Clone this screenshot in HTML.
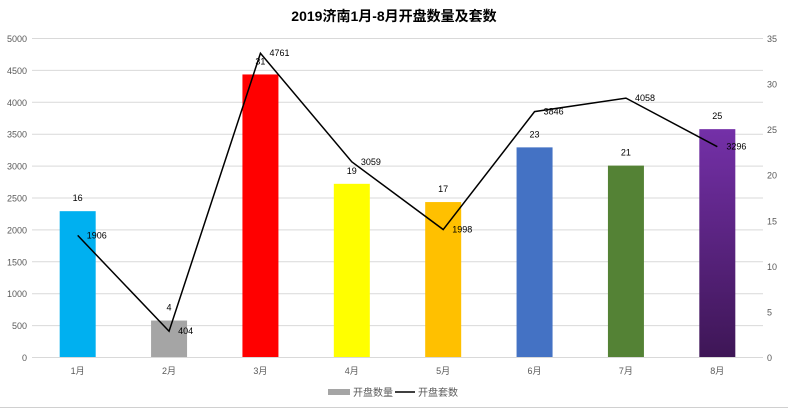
<!DOCTYPE html>
<html><head><meta charset="utf-8"><style>
body{margin:0;background:#fff;}
svg{display:block;font-family:"Liberation Sans","Noto Sans CJK SC",sans-serif;}
</style></head><body>
<svg id="chart" width="788" height="409" viewBox="0 0 788 409">
<defs><linearGradient id="pg" x1="0" y1="0" x2="0" y2="1"><stop offset="0" stop-color="#7430A8"/><stop offset="1" stop-color="#3E1656"/></linearGradient></defs>
<text x="394" y="21" text-anchor="middle" font-size="14" font-weight="bold" fill="#000">2019济南1月-8月开盘数量及套数</text>
<g id="grid"></g><g id="bars"></g><g id="line"></g><g id="labels"></g>
<g>
<rect x="328" y="389" width="22" height="6" fill="#A5A5A5"/>
<text x="353" y="396" font-size="10" fill="#595959">开盘数量</text>
<line x1="395" y1="392" x2="415" y2="392" stroke="#000" stroke-width="1.5"/>
<text x="418" y="396" font-size="10" fill="#595959">开盘套数</text>
</g>
<line x1="0" y1="407.5" x2="788" y2="407.5" stroke="#D0D0D0"/>
</svg>
<script>
const categories=["1月","2月","3月","4月","5月","6月","7月","8月"];
const countValues=[16,4,31,19,17,23,21,25];
const unitValues=[1906,404,4761,3059,1998,3846,4058,3296];
const leftTicks=[0,500,1000,1500,2000,2500,3000,3500,4000,4500,5000];
const rightTicks=[0,5,10,15,20,25,30,35];
const colors=["#00B0F0","#A5A5A5","#FF0000","#FFFF00","#FFC000","#4472C4","#548235","url(#pg)"];
const NS="http://www.w3.org/2000/svg";
const X0=32,X1=763,Y0=357,Y1=38;
const band=(X1-X0)/categories.length;
const xc=i=>X0+band*(i+0.5);
const yL=v=>Y0-(v/5000)*(Y0-Y1);
const yR=v=>Y0-(v/35)*(Y0-Y1);
function mk(t,a,p,txt){const e=document.createElementNS(NS,t);for(const k in a)e.setAttribute(k,a[k]);if(txt!=null)e.textContent=txt;document.getElementById(p).appendChild(e);return e;}
leftTicks.forEach(v=>{
 const l=mk("line",{x1:X0,x2:X1,y1:yL(v)+0.5,y2:yL(v)+0.5,stroke:"#D9D9D9"},"grid");
 
 
 const t=mk("text",{x:27,y:yL(v)+4,"text-anchor":"end","font-size":"9",fill:"#595959"},"grid",v);
 
 
});
rightTicks.forEach(v=>{
 const t=mk("text",{x:767,y:yR(v)+4,"font-size":"9",fill:"#595959"},"grid",v);
 
 
});
categories.forEach((c,i)=>{
 const t=mk("text",{x:xc(i),y:374,"text-anchor":"middle","font-size":"9",fill:"#595959"},"grid",c);
 
 
 const b=mk("rect",{x:xc(i)-18,y:yR(countValues[i]),width:36,height:Y0-yR(countValues[i]),fill:colors[i]},"bars");
 
 
 const bl=mk("text",{x:xc(i),y:yR(countValues[i])-10,"text-anchor":"middle","font-size":"9",fill:"#000"},"labels",countValues[i]);
 
 
 const ll=mk("text",{x:xc(i)+9,y:yL(unitValues[i])+3,"font-size":"9",fill:"#000"},"labels",unitValues[i]);
 
 
});
const pl=mk("polyline",{points:unitValues.map((v,i)=>xc(i)+","+yL(v)).join(" "),fill:"none",stroke:"#000","stroke-width":"1.5"},"line");


</script>
</body></html>
